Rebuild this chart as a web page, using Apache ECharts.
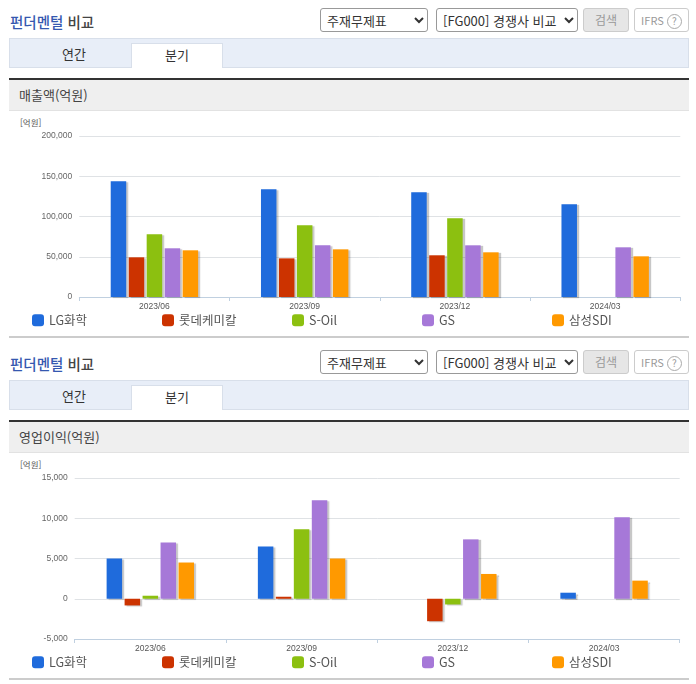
<!DOCTYPE html>
<html lang="ko"><head><meta charset="utf-8">
<script src="https://cdn.jsdelivr.net/npm/echarts@6/dist/echarts.min.js"></script>
<style>
html,body{margin:0;padding:0;background:#fff;width:696px;height:684px;overflow:hidden;font-family:"Noto Sans CJK KR","Noto Sans",sans-serif;color:#333}
.a{position:absolute;box-sizing:border-box}
.title{left:10px;font-size:14.5px;font-weight:500;line-height:20px;color:#444;white-space:nowrap}
.title b{font-weight:500;color:#3558b0}
select{position:absolute;box-sizing:border-box;height:24px;border:1px solid #999;border-radius:3px;background:#fff;font:13px "Noto Sans CJK KR",sans-serif;color:#333;padding:0 0 0 2px}
.btn{height:24px;border-radius:3px;font-size:12px;line-height:22px;text-align:center;color:#999;border:1px solid #ccc}
.tabbar{left:9px;width:680px;height:30px;background:#e8eef8;border:1px solid #d8dfea}
.tab{width:92px;height:25px;font-size:13px;line-height:22px;text-align:center;color:#333}
.on{background:#fff;border:1px solid #d8dfea;border-bottom:0}
.head{left:9px;width:680px;height:33px;background:#efefef;border-top:2px solid #333;border-bottom:1px solid #e2e2e2;font-size:13px;line-height:29px;padding-left:10px;color:#444}
.sep{left:9px;width:680px;height:2px;background:#ccc}
.unit{left:20px;font-size:8.5px;line-height:12px;color:#555}
.chart{left:0;width:696px}
</style></head><body>
<div id="root"></div>
<script>
const categories = ['2023/06','2023/09','2023/12','2024/03'];
const seriesNames = ['LG화학','롯데케미칼','S-Oil','GS','삼성SDI'];
const colors = ['#1f6bdc','#cc3300','#8cc010','#a678d8','#ff9900'];

const salesLG = [143800,133900,130100,115200];
const salesLotte = [49300,48000,51800,null];
const salesSOil = [77900,89100,97800,null];
const salesGS = [60500,64200,64200,61700];
const salesSDI = [58000,59200,55500,50500];

const opLG = [5000,6500,null,750];
const opLotte = [-830,250,-2790,null];
const opSOil = [375,8625,-710,null];
const opGS = [7000,12250,7375,10125];
const opSDI = [4500,5000,3080,2250];

const root = document.getElementById('root');
function el(cls, top, html, style){
  const d = document.createElement('div');
  d.className = 'a ' + cls; d.style.top = top + 'px';
  if (style) d.style.cssText += style;
  d.innerHTML = html; root.appendChild(d); return d;
}
function chrome(o, name){
  el('title', o + 12, '<b>펀더멘털</b> 비교');
  const s1 = document.createElement('select');
  s1.style.cssText = `left:320px;top:${o+8}px;width:108px`;
  s1.innerHTML = '<option>주재무제표</option>'; root.appendChild(s1);
  const s2 = document.createElement('select');
  s2.style.cssText = `left:436px;top:${o+8}px;width:142px`;
  s2.innerHTML = '<option>[FG000] 경쟁사 비교</option>'; root.appendChild(s2);
  el('btn', o + 8, '검색', 'left:583px;width:46px;background:#e6e6e6;');
  el('btn', o + 8, 'IFRS <span style="display:inline-block;width:13px;height:13px;line-height:12px;border:1px solid #aaa;border-radius:50%;font-size:10px">?</span>', 'left:634px;width:55px;background:#fff;font-size:11px;');
  el('tabbar', o + 38, '');
  el('tab', o + 43, '연간', 'left:28px;');
  el('tab on', o + 43, '분기', 'left:131px;');
  el('head', o + 78, name);
  el('sep', o + 336, '');
  el('unit', o + 116, '[억원]');
}
chrome(0, '매출액(억원)');
chrome(342, '영업이익(억원)');

function draw(top, h, left, width, gridTop, gridH, min, max, step, rows, legendTop){
  const d = el('chart', top, '', `height:${h}px;`);
  const c = echarts.init(d, null, {renderer:'canvas', width:696, height:h});
  c.setOption({
    animation:false,
    color:colors,
    legend:seriesNames.map((n,i)=>({
      data:[n], left:32+130*i, top:legendTop, itemWidth:12, itemHeight:12,
      icon:'roundRect', selectedMode:false, itemGap:4, padding:0,
      textStyle:{fontSize:12.5, color:'#555', fontFamily:'"Noto Sans CJK KR",sans-serif', padding:0}
    })),
    grid:{left, width, top:gridTop, height:gridH},
    xAxis:{type:'category', data:categories,
      axisLine:{onZero:false, lineStyle:{color:'#c0d0e0'}},
      axisTick:{show:true, length:4, alignWithLabel:false, lineStyle:{color:'#c0d0e0'}},
      axisLabel:{fontSize:8.5, color:'#555', margin:5, fontFamily:'"Liberation Sans",sans-serif'}},
    yAxis:{type:'value', min, max, interval:step,
      axisLine:{show:false}, axisTick:{show:false},
      splitLine:{lineStyle:{color:'#dfe2e5'}},
      axisLabel:{fontSize:8.5, color:'#666', margin:7, fontFamily:'"Liberation Sans",sans-serif',
        formatter:v=>v.toLocaleString('en-US')}},
    series:rows.map((r,i)=>({
      name:seriesNames[i], type:'bar', data:r, barWidth:15.5, barGap:'16%',
      itemStyle:{color:colors[i], shadowColor:'rgba(0,0,0,0.22)', shadowBlur:1, shadowOffsetX:2, shadowOffsetY:1}
    }))
  });
}
draw(110, 225, 79.3, 601, 26, 161, 0, 200000, 50000,
  [salesLG,salesLotte,salesSOil,salesGS,salesSDI], 204);
draw(452, 226, 74.7, 605, 26, 161, -5000, 15000, 5000,
  [opLG,opLotte,opSOil,opGS,opSDI], 204);
</script>
</body></html>
